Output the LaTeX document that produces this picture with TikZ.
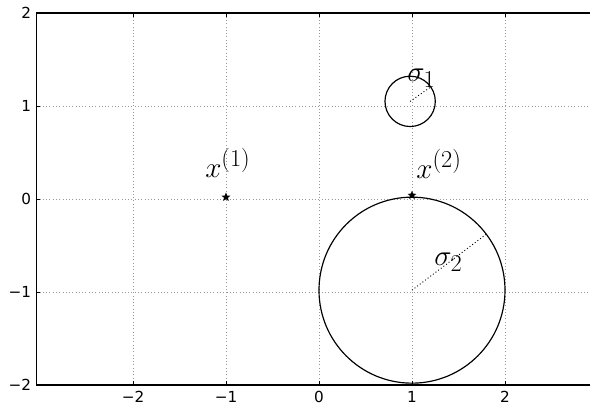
\documentclass[tikz,border=0pt]{standalone}
\usepackage{fontspec}
\newfontfamily\tickfont{DejaVu Sans}
\usepackage{amsmath}
\DeclareMathSizes{27}{27}{21}{16}
\usetikzlibrary{shapes.geometric}

\begin{document}
\begin{tikzpicture}[x=2.79cm,y=2.79cm,
  gridline/.style={black!40,dotted,line width=0.8pt},
  ticklab/.style={font=\tickfont\fontsize{13}{15}\selectfont,inner sep=1pt},
  mathlab/.style={font=\fontsize{27}{32}\selectfont,inner sep=0pt},
  datapt/.style={star,star points=5,star point ratio=2.3,fill=black,inner sep=0pt,minimum size=8pt},
  ball/.style={circle,draw,line width=1pt,inner sep=0pt,outer sep=0pt}]
\useasboundingbox (-3.43,-2.226) rectangle (2.914,2.14);
\clip (-3.43,-2.226) rectangle (2.914,2.14);
% grid
\foreach \x in {-2,...,2}
  \draw[gridline] (\x,-2) -- (\x,2);
\foreach \y in {-1,0,1}
  \draw[gridline] (-3.04,\y) -- (3.2,\y);
% frame and ticks
\draw[line width=1.1pt] (3.2,2) -- (-3.04,2) -- (-3.04,-2) -- (3.2,-2);
\foreach \x in {-2,...,2} {
  \draw[line width=0.6pt] (\x,-2) -- (\x,-1.955);
  \draw[line width=0.6pt] (\x,2) -- (\x,1.955);
  \node[ticklab,anchor=north] (xt\x) at (\x,-2.05) {\ifnum\x<0 −\the\numexpr-\x\relax\else\x\fi};
}
\foreach \y in {-2,...,2} {
  \draw[line width=0.6pt] (-3.04,\y) -- (-2.995,\y);
  \node[ticklab,anchor=east] (yt\y) at (-3.08,\y) {\ifnum\y<0 −\the\numexpr-\y\relax\else\y\fi};
}
% the two balls
\node[ball,minimum size=1.51cm] (s1) at (0.98,1.05) {};
\node[ball,minimum size=5.58cm] (s2) at (1,-0.98) {};
\draw[dotted,line width=0.8pt] (s1.center) -- (s1.35);
\draw[dotted,line width=0.8pt] (s2.center) -- (s2.37);
\node[mathlab] (l1) at (1.1,1.3) {$\sigma_1$};
\node[mathlab] (l2) at (1.39,-0.68) {$\sigma_2$};
% points
\node[datapt] (p1) at (-1,0.02) {};
\node[datapt] (p2) at (1,0.04) {};
\node[mathlab] (x1) at (-0.98,0.39) {$x^{(1)}$};
\node[mathlab] (x2) at (1.29,0.38) {$x^{(2)}$};
\end{tikzpicture}
\end{document}
